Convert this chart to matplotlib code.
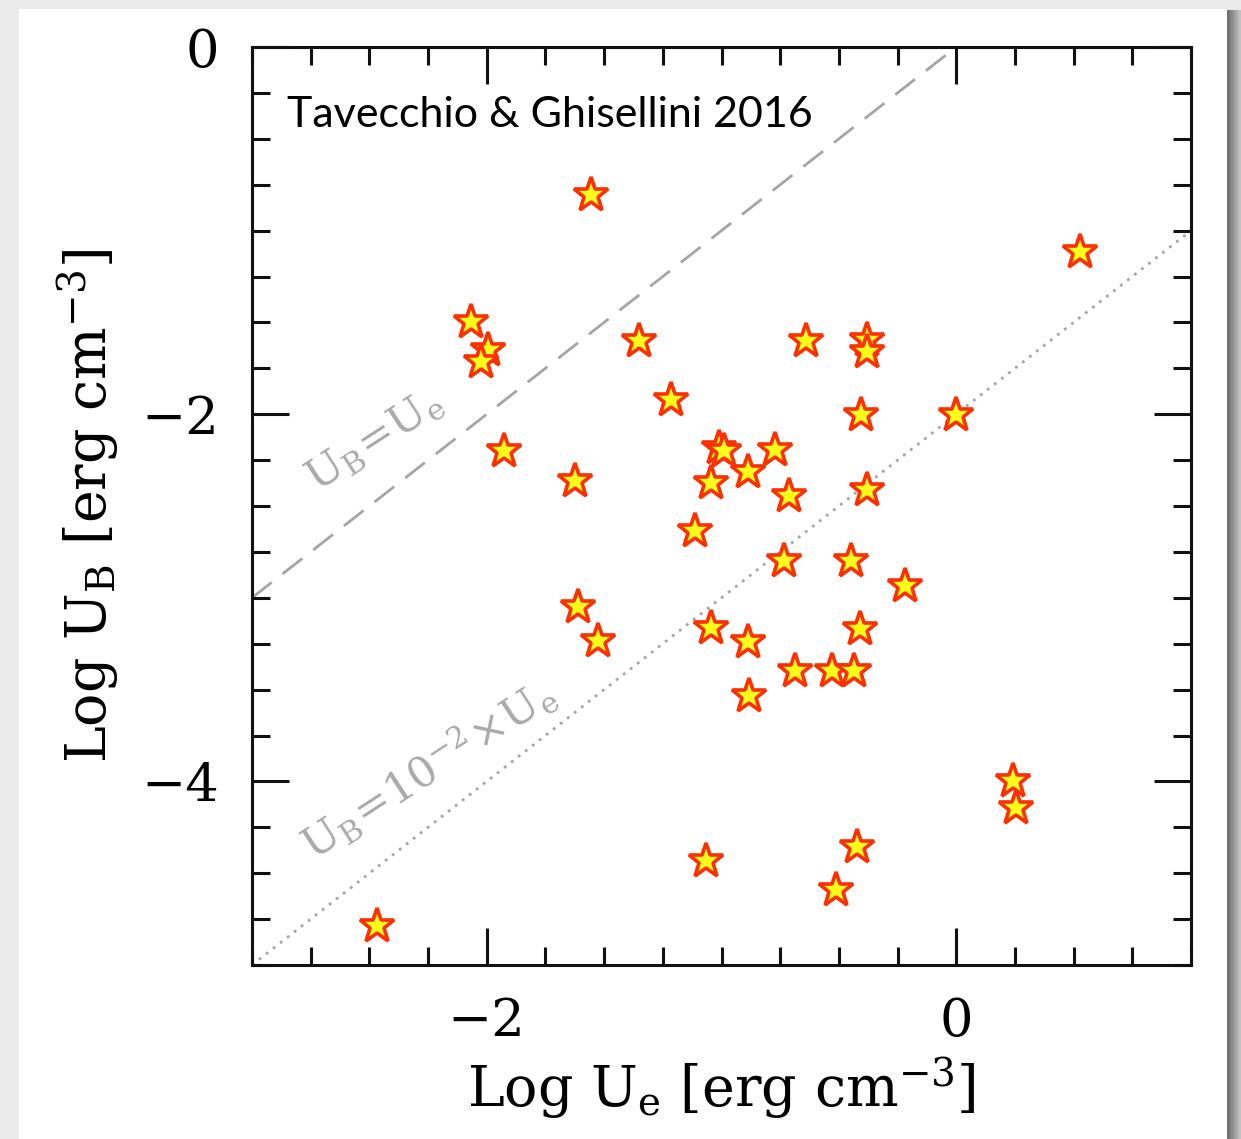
import matplotlib
matplotlib.use('Agg')
import matplotlib.pyplot as plt
from matplotlib.ticker import MultipleLocator
from matplotlib.patches import Rectangle

# log U_e and log U_B of the sources [erg cm^-3]
log_ue = [-1.557, 0.528, -2.068, -1.996, -2.026, -1.353, -0.638, -0.379, -0.379,
          -1.213, -1.928, -0.404, 0.000, -1.010, -0.990, -0.770, -1.626, -1.045,
          -0.885, -0.711, -0.379, -1.115, -0.732, -0.447, -0.217, -1.613, -1.528,
          -1.045, -0.885, -0.411, -0.685, -0.528, -0.434, -0.881, 0.243, 0.255,
          -0.421, -1.068, -0.511, -2.468]
log_ub = [-0.805, -1.116, -1.497, -1.649, -1.717, -1.600, -1.600, -1.595, -1.660,
          -1.921, -2.199, -2.003, -2.003, -2.185, -2.200, -2.193, -2.362, -2.373,
          -2.315, -2.447, -2.411, -2.638, -2.800, -2.800, -2.937, -3.048, -3.238,
          -3.163, -3.240, -3.168, -3.400, -3.400, -3.400, -3.537, -3.998, -4.147,
          -4.360, -4.435, -4.592, -4.789]

ref_label = 'Tavecchio & Ghisellini 2016'

plt.rcParams['mathtext.fontset'] = 'dejavuserif'

fig = plt.figure(figsize=(12.41, 11.39), dpi=100)
fig.patch.set_facecolor('#ebebeb')

# slide card with a shadow on the right
shadow = ['#6e6e6e', '#7c7c7c', '#8a8a8a', '#989898', '#a6a6a6', '#b4b4b4', '#c2c2c2']
for i, c in enumerate(shadow):
    fig.patches.append(Rectangle(((1227 + 2*i)/1241, 0), 2/1241, 1 - 10/1139,
                                 transform=fig.transFigure, facecolor=c,
                                 edgecolor='none', zorder=0))
fig.patches.append(Rectangle((19/1241, 0), (1227 - 19)/1241, 1 - 9/1139, transform=fig.transFigure,
                             facecolor='white', edgecolor='none', zorder=1))

ax = fig.add_axes([252/1241, 1 - 965/1139, (1191 - 252)/1241, (965 - 47)/1139])
ax.set_zorder(2)

# U_B = U_e and U_B = 1e-2 U_e
ax.plot([-3, 0], [-3, 0], color='#a5a5a5', lw=2.0, dashes=(9, 5), zorder=1)
ax.plot([-3, 1], [-5, -1], color='#a5a5a5', lw=2.0, linestyle=(0, (1, 2.2)), zorder=1)

ax.plot(log_ue, log_ub, linestyle='none', marker='*', markersize=26,
        markerfacecolor='#ffff1a', markeredgecolor='#ff3000', markeredgewidth=2.6, zorder=3)

ax.set_xlim(-3, 1)
ax.set_ylim(-5, 0)
ax.xaxis.set_major_locator(MultipleLocator(2))
ax.yaxis.set_major_locator(MultipleLocator(2))
ax.xaxis.set_minor_locator(MultipleLocator(0.25))
ax.yaxis.set_minor_locator(MultipleLocator(0.25))
ax.tick_params(which='both', direction='in', top=True, right=True, width=2.2, color='#111111')
ax.tick_params(which='major', length=26.5)
ax.tick_params(which='minor', length=13)
ax.tick_params(axis='x', which='major', pad=22, labelsize=38)
ax.tick_params(axis='y', which='major', pad=24, labelsize=38)
for lab in ax.get_xticklabels() + ax.get_yticklabels():
    lab.set_family('DejaVu Serif')
for s in ax.spines.values():
    s.set_linewidth(2.2)
    s.set_color('#111111')

ax.set_xlabel(r'Log U$_\mathrm{e}$ [erg cm$^{-3}$]', family='DejaVu Serif', fontsize=40, labelpad=6)
ax.set_ylabel(r'Log U$_\mathrm{B}$ [erg cm$^{-3}$]', family='DejaVu Serif', fontsize=40, labelpad=14)

ax.text(0.037, 0.926, ref_label, transform=ax.transAxes, family='Lato', fontsize=31,
        va='center', ha='left', color='black')

ax.text(-2.48, -2.14, r'$\mathrm{U_B\!=\!U_e}$', color='#aaaaaa', fontsize=31,
        rotation=33, ha='center', va='center', rotation_mode='anchor')
ax.text(-2.25, -3.93, r'$\mathrm{U_B\!=\!10^{-2}\!\times\! U_e}$', color='#aaaaaa', fontsize=31,
        rotation=33, ha='center', va='center', rotation_mode='anchor')

fig.savefig('out.png', dpi=100, facecolor=fig.get_facecolor())
